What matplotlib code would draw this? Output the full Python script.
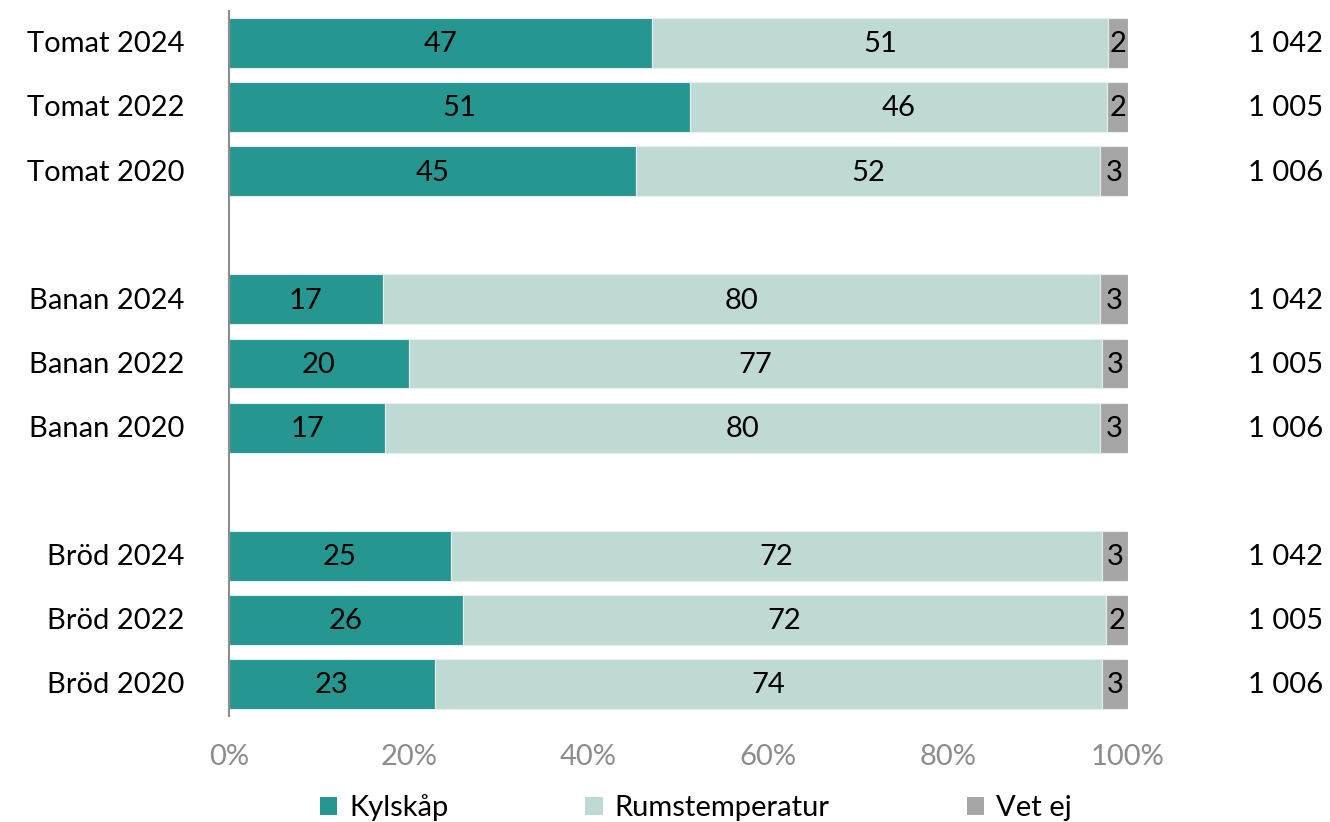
import matplotlib
matplotlib.use("Agg")
import matplotlib.pyplot as plt
from matplotlib.patches import Patch

plt.rcParams['font.family'] = ['Lato', 'DejaVu Sans']

categories = ["Tomat 2024", "Tomat 2022", "Tomat 2020", "",
              "Banan 2024", "Banan 2022", "Banan 2020", "",
              "Bröd 2024", "Bröd 2022", "Bröd 2020"]
kylskap = [47.1, 51.3, 45.3, None, 17.1, 20.0, 17.4, None, 24.7, 26.0, 22.9]
rumstemp = [50.7, 46.4, 51.6, None, 79.8, 77.1, 79.5, None, 72.4, 71.6, 74.2]
vet_ej = [2.2, 2.3, 3.1, None, 3.1, 2.9, 3.1, None, 2.9, 2.4, 2.9]
n_values = ["1 042", "1 005", "1 006", "", "1 042", "1 005", "1 006", "",
            "1 042", "1 005", "1 006"]
series_names = ["Kylskåp", "Rumstemperatur", "Vet ej"]
colors = ["#259690", "#BFD9D5", "#A6A6A6"]
xticks = [0, 20, 40, 60, 80, 100]

fig = plt.figure(figsize=(13.3, 8.22), dpi=100)
ax = fig.add_axes([229 / 1330, 1 - 716 / 822, 899 / 1330, 705 / 822])

fs = 21
for i, cat in enumerate(categories):
    if kylskap[i] is None:
        continue
    left = 0
    for val, col in zip((kylskap[i], rumstemp[i], vet_ej[i]), colors):
        ax.barh(i, val, left=left, height=0.78, color=col,
                edgecolor="#E6EFEE", linewidth=0.8)
        ax.text(left + val / 2, i + 0.02, f"{val:.0f}", ha="center", va="center",
                fontsize=fs, color="black")
        left += val
    ax.text(-0.05, i + 0.02, cat, transform=ax.get_yaxis_transform(),
            ha="right", va="center", fontsize=fs)
    ax.text(1.217, i + 0.02, n_values[i], transform=ax.get_yaxis_transform(),
            ha="right", va="center", fontsize=fs)

ax.set_xlim(0, 100)
ax.set_ylim(10.5, -0.5)
ax.set_yticks([])
ax.set_xticks(xticks)
ax.set_xticklabels([f"{t}%" for t in xticks], fontsize=fs, color="#8C8C8C")
ax.tick_params(axis="x", length=0, pad=20)
for s in ("top", "right", "bottom"):
    ax.spines[s].set_visible(False)
ax.spines["left"].set_color("#8C8C8C")
ax.spines["left"].set_linewidth(1.5)

handles = [Patch(facecolor=c, edgecolor="none") for c in colors]
fig.legend(handles, series_names, loc="center", bbox_to_anchor=(0.523, 1 - 808 / 822),
           ncol=3, frameon=False, fontsize=fs, handlelength=0.6, handleheight=0.6,
           handletextpad=0.4, columnspacing=4.7)

fig.savefig("out.png", dpi=100)
